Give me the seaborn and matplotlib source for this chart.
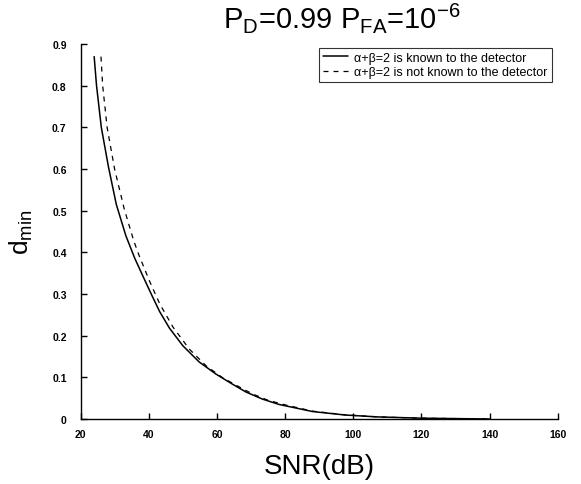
import matplotlib
matplotlib.use("Agg")
import matplotlib.pyplot as plt
import seaborn as sns
import pandas as pd

# --- data ---
snr_known = [24.0, 24.7, 26.1, 28.2, 30.5, 33.3, 35.9, 38.3, 40.8, 43.2, 46.1, 50.0,
             54.8, 59.7, 64.5, 68.5, 73.3, 78.2, 88.0, 97.6, 107.3, 120.0, 140.0]
dmin_known = [0.87, 0.80, 0.70, 0.605, 0.515, 0.44, 0.386, 0.343, 0.299, 0.258, 0.218,
              0.176, 0.137, 0.108, 0.084, 0.065, 0.048, 0.035, 0.018, 0.0096,
              0.005, 0.002, 0.0]
snr_unknown = [26.0, 26.5, 27.8, 30.0, 32.8, 35.6, 37.3, 40.3, 43.2, 47.1, 51.9, 56.8,
               61.6, 66.0, 70.5, 75.0, 80.0, 88.0, 97.6, 107.3, 120.0, 140.0]
dmin_unknown = [0.87, 0.80, 0.70, 0.60, 0.505, 0.428, 0.39, 0.33, 0.277, 0.221,
                0.168, 0.128, 0.0995, 0.0795, 0.060, 0.045, 0.034, 0.019, 0.010,
                0.005, 0.002, 0.0]
label_known = "α+β=2 is known to the detector"
label_unknown = "α+β=2 is not known to the detector"
xticks = [20, 40, 60, 80, 100, 120, 140, 160]
yticks = [0, 0.1, 0.2, 0.3, 0.4, 0.5, 0.6, 0.7, 0.8, 0.9]
ytick_labels = ["0", "0.1", "0.2", "0.3", "0.4", "0.5", "0.6", "0.7", "0.8", "0.9"]

sns.set_style("ticks")
plt.rcParams["font.family"] = ["Liberation Sans", "DejaVu Sans"]
plt.rcParams["mathtext.fontset"] = "custom"
plt.rcParams["mathtext.rm"] = "Liberation Sans"
plt.rcParams["mathtext.it"] = "Liberation Sans"
plt.rcParams["text.color"] = "black"
plt.rcParams["axes.labelcolor"] = "black"

df_k = pd.DataFrame({"snr": snr_known, "dmin": dmin_known})
df_u = pd.DataFrame({"snr": snr_unknown, "dmin": dmin_unknown})

fig = plt.figure(figsize=(5.81, 4.85), dpi=100)
ax = fig.add_axes([0.1386, 0.134, 0.8214, 0.773])

sns.lineplot(data=df_k, x="snr", y="dmin", ax=ax, color="black", linewidth=1.1,
             label=label_known)
sns.lineplot(data=df_u, x="snr", y="dmin", ax=ax, color="black", linewidth=0.9,
             linestyle=(0, (4, 4)), label=label_unknown)

ax.set_xlim(20, 160)
ax.set_ylim(0, 0.9)
ax.set_xticks(xticks)
ax.set_xticklabels([str(t) for t in xticks])
ax.set_yticks(yticks)
ax.set_yticklabels(ytick_labels)
for lab in ax.get_xticklabels() + ax.get_yticklabels():
    lab.set_fontweight("bold")
    lab.set_fontsize(7.5)
ax.tick_params(direction="in", length=4, width=1, color="black", labelcolor="black")
ax.tick_params(axis="y", pad=10)
ax.tick_params(axis="x", pad=7)
for s in ["top", "right"]:
    ax.spines[s].set_visible(False)
for s in ["left", "bottom"]:
    ax.spines[s].set_linewidth(1.0)
    ax.spines[s].set_color("black")

ax.set_xlabel("SNR(dB)", fontsize=20, labelpad=10, color="black")
ax.set_ylabel(r"$\mathrm{d_{min}}$", fontsize=19, labelpad=12, color="black")
ax.set_title(r"$\mathrm{P_D}$=0.99 $\mathrm{P_{FA}}$=10$^{\mathrm{-6}}$", fontsize=21,
             x=0.548, pad=12, color="black")

leg = ax.legend(loc="upper right", fontsize=9, frameon=True, fancybox=False,
                edgecolor="black", handlelength=2.0, borderaxespad=0.3,
                borderpad=0.3, labelspacing=0.2, handletextpad=0.5,
                bbox_to_anchor=(0.995, 1.0))
leg.get_frame().set_linewidth(0.8)
for t in leg.get_texts():
    t.set_color("black")

fig.savefig("out.png", dpi=100)
